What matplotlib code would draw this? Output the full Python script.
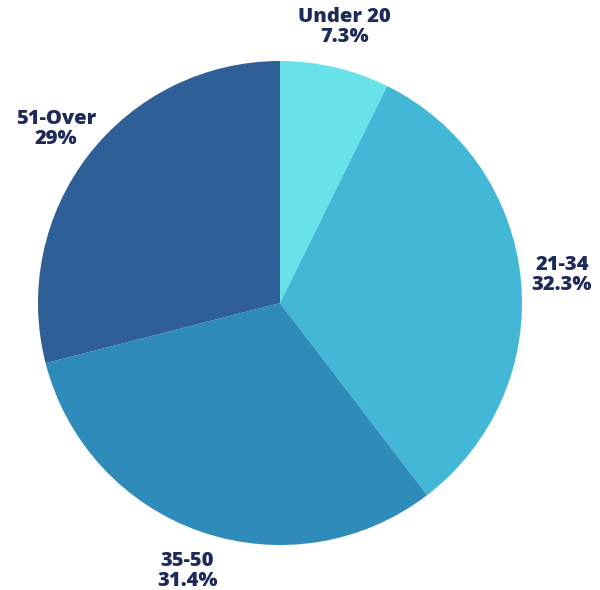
import matplotlib.pyplot as plt

# ---- data ----
age_groups = ["Under 20", "21-34", "35-50", "51-Over"]
shares = [7.3, 32.3, 31.4, 29]
share_labels = ["7.3%", "32.3%", "31.4%", "29%"]
colors = ["#67E2E8", "#42B7D6", "#2E8BBA", "#2E5F97"]

plt.rcParams['font.family'] = ['Open Sans', 'DejaVu Sans']

fig = plt.figure(figsize=(6, 5.9), dpi=100)
# pie centre at ~(280, 303) px, radius ~242 px
ax = fig.add_axes([38 / 600, 45 / 590, 484 / 600, 484 / 590])

labels = [g + "\n" + s for g, s in zip(age_groups, share_labels)]
wedges, texts = ax.pie(shares, labels=labels, colors=colors, startangle=90,
                       counterclock=False, labeldistance=1.17,
                       wedgeprops=dict(linewidth=0),
                       textprops=dict(color="#1E2B5A", fontsize=14.5,
                                      fontweight="heavy"))
for t in texts:
    t.set_horizontalalignment("center")
    t.set_verticalalignment("center")
    t.set_multialignment("center")
    t.set_linespacing(1.0)

ax.set_xlim(-1, 1)
ax.set_ylim(-1, 1)
ax.set_aspect("equal")
ax.axis("off")

fig.savefig("out.png", dpi=100)
